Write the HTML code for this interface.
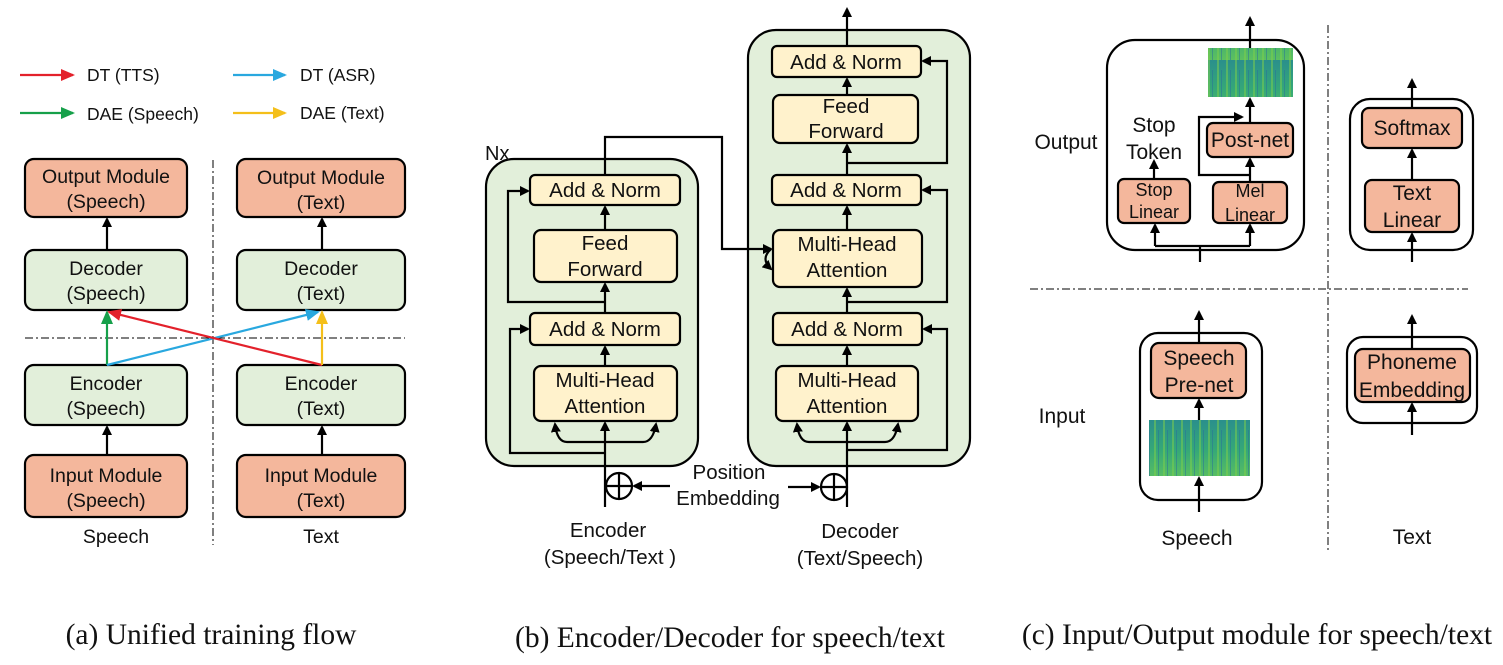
<!DOCTYPE html>
<html><head><meta charset="utf-8"><style>
body{margin:0;background:#fff;}
svg text{font-family:"Liberation Sans","DejaVu Sans",sans-serif;fill:#111;}
.cap{font-family:"Liberation Serif",serif !important;font-size:29.5px;}
</style></head><body>
<svg width="1503" height="660" viewBox="0 0 1503 660" xmlns="http://www.w3.org/2000/svg">
<defs>
<marker id="ak" markerWidth="10" markerHeight="10" refX="8" refY="5" orient="auto" markerUnits="userSpaceOnUse"><path d="M0,0 L10,5 L0,10 z" fill="#000"/></marker>
<marker id="ar" markerWidth="14" markerHeight="12" refX="12" refY="6" orient="auto" markerUnits="userSpaceOnUse"><path d="M0,0 L14,6 L0,12 z" fill="#e3212b"/></marker>
<marker id="ab" markerWidth="14" markerHeight="12" refX="12" refY="6" orient="auto" markerUnits="userSpaceOnUse"><path d="M0,0 L14,6 L0,12 z" fill="#29a8df"/></marker>
<marker id="ag" markerWidth="14" markerHeight="12" refX="12" refY="6" orient="auto" markerUnits="userSpaceOnUse"><path d="M0,0 L14,6 L0,12 z" fill="#16a04a"/></marker>
<marker id="ay" markerWidth="14" markerHeight="12" refX="12" refY="6" orient="auto" markerUnits="userSpaceOnUse"><path d="M0,0 L14,6 L0,12 z" fill="#f4bf1a"/></marker>
<linearGradient id="sp" x1="0" y1="0" x2="0" y2="1"><stop offset="0" stop-color="#2a8f8c"/><stop offset="0.5" stop-color="#35a878"/><stop offset="1" stop-color="#5cc060"/></linearGradient>
<pattern id="st" width="9" height="60" patternUnits="userSpaceOnUse"><rect width="9" height="60" fill="url(#sp)"/><rect x="2" width="2" height="60" fill="#7fd04a" opacity="0.5"/><rect x="6" y="10" width="1" height="50" fill="#2a6f9a" opacity="0.5"/></pattern>
</defs>
<g stroke="#000" stroke-width="2.2" fill="none">
<line x1="20" y1="75" x2="73" y2="75" stroke="#e3212b" marker-end="url(#ar)"/>
<line x1="233" y1="75" x2="285" y2="75" stroke="#29a8df" marker-end="url(#ab)"/>
<line x1="20" y1="113" x2="73" y2="113" stroke="#16a04a" marker-end="url(#ag)"/>
<line x1="233" y1="113" x2="285" y2="113" stroke="#f4bf1a" marker-end="url(#ay)"/>
<line x1="213" y1="160" x2="213" y2="545" stroke-width="1" stroke-dasharray="8,3,2,3"/>
<line x1="25" y1="338" x2="405" y2="338" stroke-width="1" stroke-dasharray="8,3,2,3"/>
<rect x="25" y="159" width="162" height="58" rx="9" fill="#f4b79c"/>
<rect x="237" y="159" width="168" height="58" rx="9" fill="#f4b79c"/>
<rect x="25" y="250" width="162" height="60" rx="9" fill="#e2efda"/>
<rect x="237" y="250" width="168" height="60" rx="9" fill="#e2efda"/>
<rect x="25" y="365" width="162" height="60" rx="9" fill="#e2efda"/>
<rect x="237" y="365" width="168" height="60" rx="9" fill="#e2efda"/>
<rect x="25" y="455" width="162" height="62" rx="9" fill="#f4b79c"/>
<rect x="237" y="455" width="168" height="62" rx="9" fill="#f4b79c"/>
<line x1="107" y1="250" x2="107" y2="219" marker-end="url(#ak)"/>
<line x1="322" y1="250" x2="322" y2="219" marker-end="url(#ak)"/>
<line x1="107" y1="455" x2="107" y2="427" marker-end="url(#ak)"/>
<line x1="322" y1="455" x2="322" y2="427" marker-end="url(#ak)"/>
<line x1="107" y1="365" x2="107" y2="312" stroke="#16a04a" marker-end="url(#ag)"/>
<line x1="107" y1="365" x2="318" y2="312" stroke="#29a8df" marker-end="url(#ab)"/>
<line x1="322" y1="365" x2="109" y2="312" stroke="#e3212b" marker-end="url(#ar)"/>
<line x1="322" y1="365" x2="322" y2="312" stroke="#f4bf1a" marker-end="url(#ay)"/>
<!-- panel b -->
<rect x="486" y="159" width="212" height="307" rx="28" fill="#e2efda"/>
<rect x="748" y="30" width="222" height="436" rx="28" fill="#e2efda"/>
<rect x="530" y="175" width="150" height="30" rx="5" fill="#fff2cc"/>
<rect x="534" y="230" width="143" height="52" rx="7" fill="#fff2cc"/>
<rect x="530" y="313" width="150" height="32" rx="5" fill="#fff2cc"/>
<rect x="534" y="366" width="143" height="55" rx="7" fill="#fff2cc"/>
<rect x="772" y="46" width="149" height="31" rx="5" fill="#fff2cc"/>
<rect x="773" y="95" width="145" height="48" rx="7" fill="#fff2cc"/>
<rect x="772" y="175" width="149" height="30" rx="5" fill="#fff2cc"/>
<rect x="773" y="230" width="149" height="57" rx="7" fill="#fff2cc"/>
<rect x="773" y="313" width="149" height="32" rx="5" fill="#fff2cc"/>
<rect x="776" y="366" width="142" height="55" rx="7" fill="#fff2cc"/>
<line x1="605" y1="507" x2="605" y2="423" marker-end="url(#ak)"/>
<line x1="605" y1="366" x2="605" y2="347" marker-end="url(#ak)"/>
<line x1="605" y1="313" x2="605" y2="284" marker-end="url(#ak)"/>
<line x1="605" y1="230" x2="605" y2="207" marker-end="url(#ak)"/>
<path d="M605,442 H567 Q557,442 555,424" marker-end="url(#ak)"/>
<path d="M605,442 H643 Q653,442 656,424" marker-end="url(#ak)"/>
<polyline points="605,302 508,302 508,191 528,191" marker-end="url(#ak)"/>
<polyline points="605,453 510,453 510,329 528,329" marker-end="url(#ak)"/>
<polyline points="605,175 605,137 722,137 722,249 771,249" marker-end="url(#ak)"/>
<path d="M771,249 Q760,259 771,269" marker-end="url(#ak)"/>
<circle cx="619" cy="486" r="13"/>
<line x1="606" y1="486" x2="632" y2="486"/><line x1="619" y1="473" x2="619" y2="499"/>
<line x1="670" y1="486" x2="634" y2="486" marker-end="url(#ak)"/>
<line x1="847" y1="507" x2="847" y2="423" marker-end="url(#ak)"/>
<line x1="847" y1="366" x2="847" y2="347" marker-end="url(#ak)"/>
<line x1="847" y1="313" x2="847" y2="289" marker-end="url(#ak)"/>
<line x1="847" y1="230" x2="847" y2="207" marker-end="url(#ak)"/>
<line x1="847" y1="175" x2="847" y2="145" marker-end="url(#ak)"/>
<line x1="847" y1="95" x2="847" y2="79" marker-end="url(#ak)"/>
<line x1="847" y1="46" x2="847" y2="9" marker-end="url(#ak)"/>
<path d="M847,442 H809 Q799,442 797,424" marker-end="url(#ak)"/>
<path d="M847,442 H885 Q895,442 898,424" marker-end="url(#ak)"/>
<polyline points="847,163 947,163 947,61 923,61" marker-end="url(#ak)"/>
<polyline points="847,302 947,302 947,190 923,190" marker-end="url(#ak)"/>
<polyline points="847,450 947,450 947,329 924,329" marker-end="url(#ak)"/>
<circle cx="834" cy="487" r="13"/>
<line x1="821" y1="487" x2="847" y2="487"/><line x1="834" y1="474" x2="834" y2="500"/>
<line x1="788" y1="487" x2="819" y2="487" marker-end="url(#ak)"/>
<!-- panel c -->
<line x1="1328" y1="25" x2="1328" y2="550" stroke-width="1" stroke-dasharray="8,3,2,3"/>
<line x1="1030" y1="289" x2="1468" y2="289" stroke-width="1" stroke-dasharray="8,3,2,3"/>
<rect x="1107" y="40" width="197" height="210" rx="28"/>
<rect x="1350" y="99" width="123" height="151" rx="20"/>
<rect x="1140" y="333" width="122" height="167" rx="18"/>
<rect x="1347" y="337" width="130" height="86" rx="16"/>
<rect x="1207" y="123" width="86" height="34" rx="6" fill="#f4b79c"/>
<rect x="1118" y="179" width="72" height="44" rx="6" fill="#f4b79c"/>
<rect x="1213" y="182" width="74" height="41" rx="6" fill="#f4b79c"/>
<rect x="1362" y="108" width="100" height="40" rx="7" fill="#f4b79c"/>
<rect x="1365" y="180" width="94" height="52" rx="7" fill="#f4b79c"/>
<rect x="1151" y="343" width="95" height="55" rx="8" fill="#f4b79c"/>
<rect x="1355" y="349" width="115" height="53" rx="8" fill="#f4b79c"/>
<line x1="1250" y1="48" x2="1250" y2="18" marker-end="url(#ak)"/>
<line x1="1250" y1="123" x2="1250" y2="99" marker-end="url(#ak)"/>
<line x1="1250" y1="182" x2="1250" y2="159" marker-end="url(#ak)"/>
<polyline points="1250,175 1199,175 1199,117 1242,117" marker-end="url(#ak)"/>
<line x1="1154" y1="179" x2="1154" y2="161" marker-end="url(#ak)"/>
<line x1="1200" y1="262" x2="1200" y2="246"/>
<polyline points="1155,246 1250,246"/>
<line x1="1155" y1="246" x2="1155" y2="225" marker-end="url(#ak)"/>
<line x1="1250" y1="246" x2="1250" y2="225" marker-end="url(#ak)"/>
<line x1="1412" y1="108" x2="1412" y2="80" marker-end="url(#ak)"/>
<line x1="1412" y1="180" x2="1412" y2="150" marker-end="url(#ak)"/>
<line x1="1412" y1="262" x2="1412" y2="234" marker-end="url(#ak)"/>
<line x1="1199" y1="343" x2="1199" y2="312" marker-end="url(#ak)"/>
<line x1="1199" y1="420" x2="1199" y2="400" marker-end="url(#ak)"/>
<line x1="1199" y1="512" x2="1199" y2="478" marker-end="url(#ak)"/>
<line x1="1412" y1="349" x2="1412" y2="316" marker-end="url(#ak)"/>
<line x1="1412" y1="435" x2="1412" y2="404" marker-end="url(#ak)"/>
</g>
<rect x="1208" y="48" width="85" height="49" fill="url(#st)"/>
<rect x="1149" y="420" width="101" height="56" fill="url(#st)"/>
<g font-size="17.5">
<text x="87" y="81">DT (TTS)</text><text x="300" y="81">DT (ASR)</text>
<text x="87" y="120">DAE (Speech)</text><text x="300" y="119">DAE (Text)</text>
</g>
<g font-size="19.5" text-anchor="middle">
<text x="106" y="183">Output Module</text><text x="106" y="208">(Speech)</text>
<text x="321" y="184">Output Module</text><text x="321" y="209">(Text)</text>
<text x="106" y="275">Decoder</text><text x="106" y="300">(Speech)</text>
<text x="321" y="275">Decoder</text><text x="321" y="300">(Text)</text>
<text x="106" y="390">Encoder</text><text x="106" y="415">(Speech)</text>
<text x="321" y="390">Encoder</text><text x="321" y="415">(Text)</text>
<text x="106" y="482">Input Module</text><text x="106" y="507">(Speech)</text>
<text x="321" y="482">Input Module</text><text x="321" y="507">(Text)</text>
<text x="116" y="543">Speech</text><text x="321" y="543">Text</text>
</g>
<g font-size="20.5" text-anchor="middle">
<text x="605" y="197">Add &amp; Norm</text>
<text x="605" y="250">Feed</text><text x="605" y="276">Forward</text>
<text x="605" y="336">Add &amp; Norm</text>
<text x="605" y="387">Multi-Head</text><text x="605" y="413">Attention</text>
<text x="846" y="69">Add &amp; Norm</text>
<text x="846" y="113">Feed</text><text x="846" y="138">Forward</text>
<text x="846" y="197">Add &amp; Norm</text>
<text x="847" y="251">Multi-Head</text><text x="847" y="277">Attention</text>
<text x="847" y="336">Add &amp; Norm</text>
<text x="847" y="387">Multi-Head</text><text x="847" y="413">Attention</text>
<text x="729" y="479">Position</text><text x="728" y="505">Embedding</text>
<text x="608" y="537">Encoder</text><text x="610" y="564">(Speech/Text )</text>
<text x="860" y="538">Decoder</text><text x="860" y="565">(Text/Speech)</text>
</g>
<text x="485" y="160" font-size="20">Nx</text>
<g font-size="21" text-anchor="middle">
<text x="1066" y="149">Output</text>
<text x="1154" y="132">Stop</text><text x="1154" y="159">Token</text>
<text x="1250" y="147">Post-net</text>
<text x="1412" y="135">Softmax</text>
<text x="1412" y="200">Text</text><text x="1412" y="227">Linear</text>
<text x="1199" y="365">Speech</text><text x="1199" y="392">Pre-net</text>
<text x="1412" y="369">Phoneme</text><text x="1412" y="397">Embedding</text>
<text x="1062" y="423">Input</text>
<text x="1197" y="545">Speech</text><text x="1412" y="544">Text</text>
</g>
<g font-size="18" text-anchor="middle">
<text x="1154" y="196">Stop</text><text x="1154" y="218">Linear</text>
<text x="1250" y="197">Mel</text><text x="1250" y="221">Linear</text>
</g>
<g text-anchor="middle">
<text class="cap" x="211" y="644">(a) Unified training flow</text>
<text class="cap" x="730" y="647">(b) Encoder/Decoder for speech/text</text>
<text class="cap" x="1257" y="644">(c) Input/Output module for speech/text</text>
</g>
</svg>
</body></html>
